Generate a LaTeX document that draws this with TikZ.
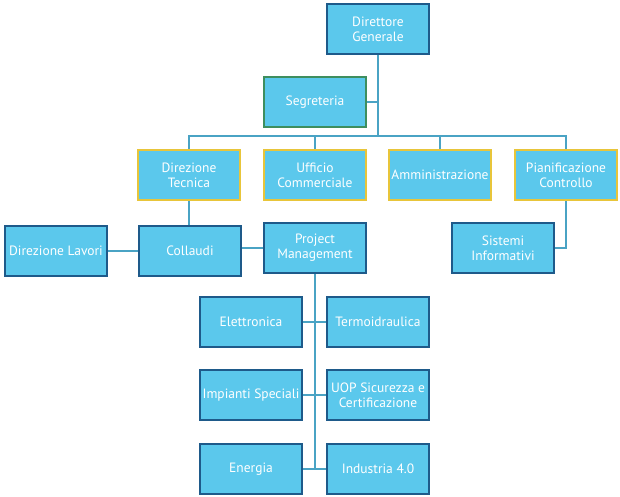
\documentclass[tikz,border=0pt]{standalone}
\usepackage{fontspec}
\setmainfont{PT Sans}
\definecolor{boxfill}{HTML}{5BC8EC}
\definecolor{boxblue}{HTML}{1E5A8A}
\definecolor{boxyellow}{HTML}{E8C53A}
\definecolor{boxgreen}{HTML}{3E8E5E}
\definecolor{linkc}{HTML}{4AA3C4}
\begin{document}
\begin{tikzpicture}[x=1pt,y=-1pt,
  unit/.style={draw=boxblue, line width=2pt, fill=boxfill, text=white,
    minimum width=102pt, minimum height=50pt, inner sep=1pt, align=center,
    font=\fontsize{13.5}{15}\selectfont, anchor=north west},
  uniy/.style={unit, draw=boxyellow},
  unig/.style={unit, draw=boxgreen},
  link/.style={draw=linkc, line width=1.8pt}]
\useasboundingbox (0,0) rectangle (620,497);
\node[unit] (dg) at (326,3) {Direttore\\Generale};
\node[unig] (seg) at (263,76) {Segreteria};
\node[uniy] (dt) at (137,149) {Direzione\\Tecnica};
\node[uniy] (uc) at (263,149) {Ufficio\\Commerciale};
\node[uniy] (am) at (388,149) {Amministrazione};
\node[uniy] (pc) at (514,149) {Pianificazione\\Controllo};
\node[unit] (dl) at (4,225) {Direzione Lavori};
\node[unit] (co) at (138,225) {Collaudi};
\node[unit] (pm) at (263,222) {Project\\Management};
\node[unit] (si) at (451,222) {Sistemi\\Informativi};
\node[unit] (el) at (199,296) {Elettronica};
\node[unit] (te) at (326,296) {Termoidraulica};
\node[unit] (is) at (199,369) {Impianti Speciali};
\node[unit] (uop) at (326,369) {UOP Sicurezza e\\Certificazione};
\node[unit] (en) at (199,443) {Energia};
\node[unit] (ind) at (326,443) {Industria 4.0};
\coordinate (bus) at (dg.south |- 0,136);
\coordinate (pmbot) at (pm.south |- 0,468);
\path[link] (dg.south) -- (bus);
\path[link] (seg.east) -- (seg.east -| dg.south);
\path[link] (dt.north) |- (bus) -| (pc.north);
\path[link] (uc.north) -- (uc.north |- bus);
\path[link] (am.north) -- (am.north |- bus);
\path[link] (dt.south) -- (co.north -| dt.south);
\path[link] (co.west) -- (dl.east |- co.west);
\path[link] (co.east |- pm.west) -- (pm.west);
\path[link] (pc.south) |- (si.east);
\path[link] (pm.south) -- (pmbot);
\path[link] (el.east) -- (te.west);
\path[link] (is.east) -- (uop.west);
\path[link] (en.east) -- (ind.west);
\end{tikzpicture}
\end{document}
